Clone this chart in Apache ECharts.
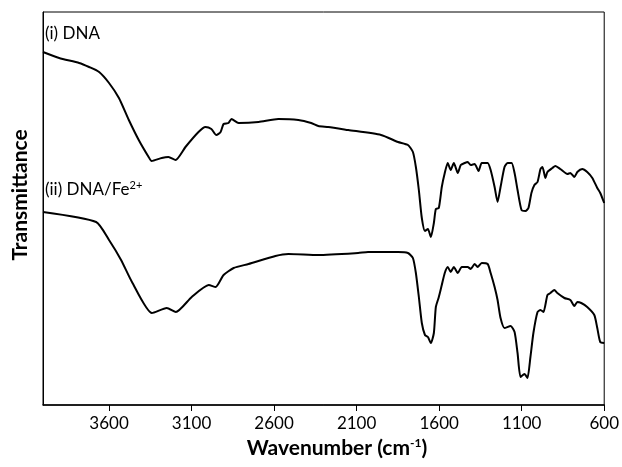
<!DOCTYPE html>
<html>
<head>
<meta charset="utf-8">
<script src="https://cdn.jsdelivr.net/npm/echarts@6/dist/echarts.min.js"></script>
<style>
  html, body { margin: 0; padding: 0; background: #fff; }
  #chart { width: 622px; height: 467px; }
</style>
</head>
<body>
<div id="chart"></div>
<script>
// wavenumber (cm-1) and transmittance (arbitrary units)
var dnaWave = [4000, 3902, 3781, 3721, 3660, 3600, 3540, 3480, 3420, 3360, 3342, 3281, 3240, 3197, 3137, 3058, 3016, 2980, 2950, 2924, 2906, 2876, 2858, 2815, 2694, 2574, 2453, 2375, 2332, 2272, 2151, 1952, 1849, 1789, 1759, 1741, 1723, 1705, 1686, 1668, 1650, 1632, 1620, 1602, 1584, 1566, 1548, 1530, 1511, 1487, 1469, 1445, 1427, 1409, 1385, 1361, 1342, 1306, 1288, 1264, 1246, 1228, 1204, 1185, 1161, 1143, 1125, 1101, 1077, 1059, 1041, 1023, 1004, 986, 974, 956, 944, 914, 896, 866, 823, 805, 781, 763, 733, 703, 672, 642, 624, 600];
var dnaT = [353, 347, 342, 338, 333, 322, 307, 285, 265, 248, 244, 247, 248, 245, 258, 273, 278, 276, 270, 273, 281, 282, 286, 282, 283, 286, 285, 282, 279, 278, 275, 270, 263, 260, 253, 238, 215, 187, 174, 176, 168, 182, 196, 197, 218, 232, 242, 235, 242, 232, 240, 242, 243, 240, 241, 234, 242, 242, 235, 218, 203, 218, 238, 242, 242, 232, 215, 195, 194, 197, 212, 220, 223, 236, 238, 227, 233, 237, 239, 236, 231, 232, 228, 233, 236, 233, 227, 217, 212, 202];

var feWave = [4000, 3678, 3600, 3527, 3461, 3340, 3250, 3195, 3099, 2996, 2954, 2906, 2845, 2755, 2592, 2513, 2332, 2091, 2031, 1849, 1789, 1759, 1741, 1723, 1705, 1686, 1668, 1650, 1632, 1620, 1602, 1584, 1566, 1548, 1530, 1511, 1487, 1463, 1427, 1409, 1385, 1367, 1342, 1306, 1288, 1264, 1246, 1228, 1204, 1167, 1143, 1125, 1107, 1083, 1065, 1047, 1029, 1004, 986, 968, 944, 926, 902, 884, 841, 805, 781, 763, 739, 703, 660, 642, 624, 600];
var feT = [193, 183, 165, 145, 123, 92, 97, 93, 108, 120, 118, 130, 137, 141, 149, 151, 150, 152, 153, 153, 152, 147, 132, 108, 82, 70, 68, 62, 72, 98, 108, 120, 132, 138, 133, 138, 132, 138, 138, 136, 141, 138, 142, 141, 132, 118, 105, 87, 77, 79, 73, 52, 28, 31, 27, 48, 72, 93, 95, 93, 110, 112, 115, 112, 107, 105, 99, 103, 102, 98, 90, 77, 63, 62];

var tickValues = [600, 1100, 1600, 2100, 2600, 3100, 3600];

function pairs(xs, ys) {
  var out = [];
  for (var i = 0; i < xs.length; i++) out.push([xs[i], ys[i]]);
  return out;
}

var chart = echarts.init(document.getElementById('chart'));
var font = 'Lato, "Open Sans", sans-serif';

chart.setOption({
  animation: false,
  grid: {
    left: 43, right: 15, top: 12, bottom: 62,
    show: true, borderColor: '#000', borderWidth: 1
  },
  xAxis: {
    type: 'value',
    min: 600,
    max: 4000,
    inverse: true,
    splitLine: { show: false },
    axisLine: { show: true, lineStyle: { color: '#000', width: 1.5 } },
    axisTick: { show: true, inside: false, length: 6, customValues: tickValues, lineStyle: { color: '#000' } },
    axisLabel: {
      customValues: tickValues,
      formatter: function (v) { return String(v); },
      margin: 10,
      color: '#000',
      fontSize: 17,
      fontFamily: font
    }
  },
  yAxis: {
    type: 'value',
    min: 0,
    max: 393,
    splitLine: { show: false },
    axisLine: { show: true, lineStyle: { color: '#000', width: 1 } },
    axisTick: { show: false },
    axisLabel: { show: false }
  },
  graphic: [
    {
      type: 'text', left: 45, top: 25,
      style: { text: '(i) DNA', fill: '#000', font: '17px ' + font }
    },
    {
      type: 'text', left: 45, top: 180,
      style: {
        text: '(ii) DNA/Fe{sup|2+}',
        fill: '#000',
        font: '17px ' + font,
        rich: { sup: { fontSize: 11, fill: '#000', verticalAlign: 'top', padding: [0, 0, 8, 0], fontFamily: font } }
      }
    },
    {
      type: 'text', x: 20, y: 195, rotation: Math.PI / 2,
      style: {
        text: 'Transmittance', fill: '#000', font: 'bold 21px ' + font,
        align: 'center', verticalAlign: 'middle'
      }
    },
    {
      type: 'text', x: 337, y: 448,
      style: {
        text: 'Wavenumber (cm{sup|-1})', fill: '#000', font: 'bold 21px ' + font,
        align: 'center', verticalAlign: 'middle',
        rich: { sup: { fontSize: 12, fontWeight: 'bold', fill: '#000', verticalAlign: 'top', padding: [0, 0, 9, 0], fontFamily: font } }
      }
    }
  ],
  series: [
    {
      name: '(i) DNA',
      type: 'line',
      data: pairs(dnaWave, dnaT),
      showSymbol: false,
      smooth: 0.2,
      lineStyle: { color: '#000', width: 2 }
    },
    {
      name: '(ii) DNA/Fe2+',
      type: 'line',
      data: pairs(feWave, feT),
      showSymbol: false,
      smooth: 0.2,
      lineStyle: { color: '#000', width: 2 }
    }
  ]
});
</script>
</body>
</html>
